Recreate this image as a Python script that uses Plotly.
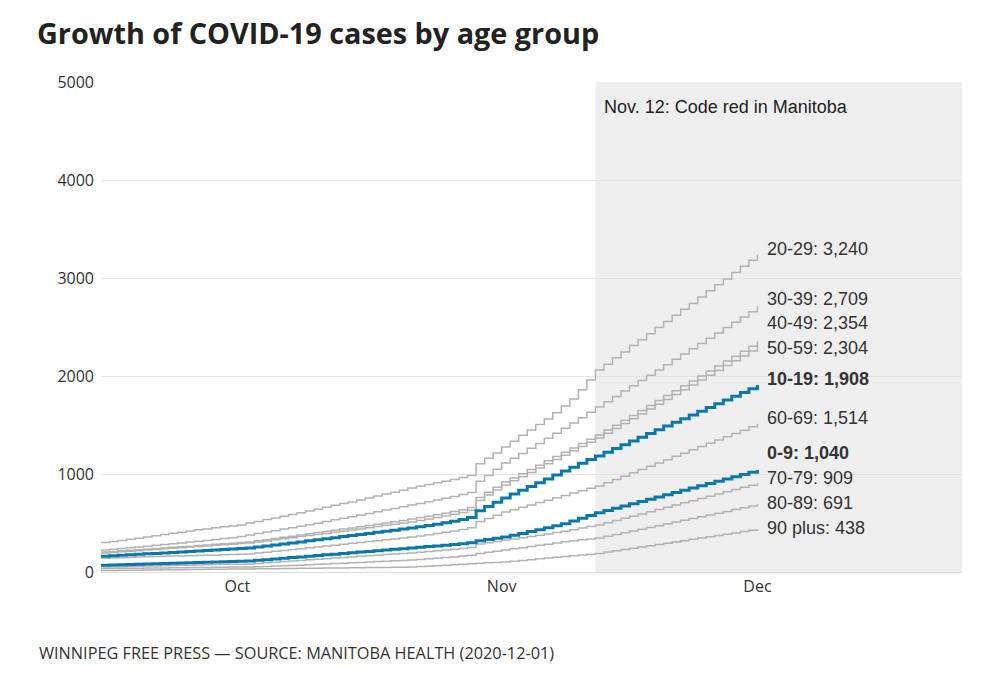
import pandas as pd
import plotly.graph_objects as go

dates = pd.date_range("2020-09-15", "2020-12-01", freq="D")

age_groups = ["20-29", "30-39", "40-49", "50-59", "10-19", "60-69", "0-9", "70-79", "80-89", "90 plus"]
highlight = ["10-19", "0-9"]

cases_20_29 = [300, 310, 322, 335, 345, 358, 370, 382, 395, 405, 418, 430, 440, 452, 462, 470, 480,
               500, 515, 535, 552, 570, 588, 605, 622, 640, 660, 680, 698, 715, 735, 755, 775, 795, 815, 835, 857,
               875, 893, 910, 925, 945, 965, 985,
               1105, 1160, 1215, 1276,
               1335, 1395, 1450, 1505, 1560, 1625, 1695, 1765, 1860, 1960, 2060,
               2120, 2185, 2245, 2310, 2370, 2430, 2495, 2555, 2620, 2680, 2740, 2805, 2870, 2930, 2990, 3055, 3120, 3180, 3240]
cases_30_39 = [225, 232, 240, 248, 256, 264, 272, 280, 288, 296, 305, 314, 322, 332, 342, 350, 362,
               378, 392, 408, 422, 438, 452, 468, 482, 498, 515, 532, 548, 565, 582, 598, 615, 632, 648, 665, 683,
               700, 718, 735, 752, 770, 790, 810,
               925, 985, 1048, 1112,
               1160, 1210, 1262, 1312, 1365, 1415, 1468, 1520, 1575, 1630, 1684,
               1738, 1792, 1846, 1900, 1954, 2008, 2062, 2116, 2170, 2224, 2278, 2332, 2386, 2440, 2494, 2548, 2602, 2656, 2709]
cases_40_49 = [205, 210, 216, 222, 228, 234, 240, 246, 252, 258, 264, 270, 276, 282, 288, 294, 300,
               306, 318, 330, 342, 354, 366, 378, 390, 402, 414, 426, 438, 450, 462, 475, 488, 500, 513, 526, 540,
               555, 570, 585, 600, 618, 636, 658,
               760, 815, 865, 918,
               960, 1003, 1046, 1090, 1134, 1178, 1222, 1266, 1310, 1354, 1398,
               1448, 1498, 1548, 1598, 1649, 1699, 1749, 1800, 1850, 1900, 1950, 2001, 2051, 2101, 2152, 2202, 2252, 2303, 2354]
cases_50_59 = [195, 200, 206, 212, 218, 224, 230, 236, 242, 248, 254, 260, 266, 272, 278, 284, 290,
               295, 306, 317, 328, 339, 350, 361, 372, 383, 394, 405, 416, 428, 440, 452, 464, 476, 488, 499, 510,
               525, 540, 556, 572, 590, 608, 630,
               730, 785, 836, 888,
               930, 973, 1016, 1060, 1104, 1148, 1192, 1236, 1280, 1324, 1367,
               1416, 1465, 1515, 1564, 1613, 1662, 1712, 1761, 1810, 1860, 1909, 1958, 2008, 2057, 2106, 2156, 2205, 2255, 2304]
cases_10_19 = [160, 165, 170, 175, 180, 185, 190, 195, 200, 205, 210, 215, 220, 225, 230, 235, 240,
               245, 255, 265, 276, 286, 297, 307, 318, 329, 339, 350, 361, 372, 383, 394, 405, 416, 427, 438, 449,
               461, 474, 487, 502, 518, 536, 556,
               625, 668, 712, 755,
               795, 833, 872, 910, 950, 990, 1030, 1070, 1110, 1148, 1184,
               1222, 1260, 1298, 1336, 1374, 1413, 1451, 1489, 1527, 1565, 1603, 1641, 1679, 1717, 1756, 1794, 1832, 1870, 1908]
cases_60_69 = [140, 143, 146, 149, 152, 155, 158, 160, 162, 164, 166, 168, 170, 172, 175, 178, 180,
               184, 193, 202, 211, 220, 229, 238, 247, 256, 265, 274, 284, 293, 302, 311, 320, 329, 338, 348, 357,
               368, 380, 392, 405, 418, 434, 452,
               515, 547, 580, 612,
               636, 660, 684, 708, 732, 757, 781, 805, 830, 854, 878,
               911, 945, 978, 1012, 1046, 1079, 1113, 1146, 1180, 1213, 1247, 1280, 1313, 1347, 1380, 1414, 1447, 1481, 1514]
cases_0_9 = [70, 72, 75, 77, 80, 82, 85, 87, 90, 92, 95, 97, 100, 102, 105, 107, 110,
             112, 119, 126, 133, 140, 147, 154, 161, 168, 175, 182, 189, 196, 203, 210, 217, 224, 231, 238, 245,
             252, 259, 266, 273, 280, 288, 298,
             320, 332, 344, 357,
             375, 393, 412, 432, 452, 472, 492, 520, 548, 576, 605,
             628, 651, 674, 697, 720, 742, 765, 788, 811, 834, 857, 880, 903, 926, 948, 971, 994, 1017, 1040]
cases_70_79 = [50, 52, 54, 56, 58, 60, 62, 64, 66, 68, 70, 72, 74, 76, 78, 79, 80,
               82, 88, 94, 100, 106, 112, 118, 124, 130, 136, 142, 148, 154, 160, 166, 172, 178, 184, 190, 195,
               202, 209, 216, 224, 232, 240, 250,
               285, 298, 312, 326,
               338, 350, 362, 375, 388, 402, 416, 432, 448, 464, 480,
               503, 525, 548, 570, 593, 615, 638, 661, 683, 706, 728, 751, 774, 796, 819, 841, 864, 886, 909]
cases_80_89 = [35, 36, 37, 38, 39, 40, 41, 42, 43, 44, 45, 46, 47, 48, 49, 50, 50,
               51, 54, 57, 60, 63, 66, 70, 74, 78, 82, 86, 90, 94, 98, 102, 106, 110, 114, 118, 122,
               128, 134, 140, 147, 154, 162, 170,
               190, 201, 212, 224,
               236, 248, 260, 272, 284, 296, 308, 318, 328, 338, 347,
               365, 383, 401, 419, 437, 455, 473, 492, 510, 528, 546, 564, 582, 600, 618, 637, 655, 673, 691]
cases_90_plus = [15, 16, 17, 18, 19, 20, 21, 22, 23, 24, 25, 26, 27, 28, 29, 30, 30,
                 31, 32, 33, 34, 35, 36, 37, 38, 39, 40, 41, 42, 43, 44, 45, 46, 47, 48, 49, 51,
                 55, 59, 63, 68, 73, 78, 84,
                 90, 94, 98, 102,
                 110, 118, 126, 134, 142, 150, 158, 166, 174, 182, 190,
                 203, 216, 229, 242, 255, 268, 281, 294, 307, 320, 333, 346, 359, 372, 385, 398, 412, 425, 438]

series = {
    "20-29": cases_20_29, "30-39": cases_30_39, "40-49": cases_40_49, "50-59": cases_50_59,
    "10-19": cases_10_19, "60-69": cases_60_69, "0-9": cases_0_9, "70-79": cases_70_79,
    "80-89": cases_80_89, "90 plus": cases_90_plus,
}

# label vertical nudges (pixels) to avoid overlaps
label_yshift = {"20-29": 5, "30-39": 8, "40-49": 18, "50-59": -2, "10-19": 6,
                "60-69": 6, "0-9": 17, "70-79": 5, "80-89": 1, "90 plus": 1}

code_red_date = "2020-11-12"
x_start, x_end = "2020-09-15", "2020-12-25"

GRAY = "#b3b3b3"
BLUE = "#0a78ad"

# the page adds an 8px body margin, so the figure is laid out in a 991x684 box
W, H = 991, 684
ML, MR, MT, MB = 93, 37, 74, 120
PW, PH = W - ML - MR, H - MT - MB

fig = go.Figure()
order = [g for g in age_groups if g not in highlight] + highlight
for g in order:
    hl = g in highlight
    fig.add_trace(go.Scatter(
        x=dates, y=series[g], mode="lines", line_shape="hv",
        line=dict(color=BLUE if hl else GRAY, width=3 if hl else 1.5),
        name=g, showlegend=False, hoverinfo="skip"))

annotations = []
for g in age_groups:
    vals = series[g]
    hl = g in highlight
    txt = f"{g}: {vals[-1]:,}"
    if hl:
        txt = f"<b>{txt}</b>"
    annotations.append(dict(
        x=dates[-1], y=vals[-1], xref="x", yref="y", text=txt, showarrow=False,
        xanchor="left", yanchor="middle", xshift=8, yshift=label_yshift[g],
        font=dict(family="Liberation Sans, Arial, sans-serif", size=18, color="#333333")))

annotations.append(dict(
    x=code_red_date, y=1, xref="x", yref="paper", text="Nov. 12: Code red in Manitoba",
    showarrow=False, xanchor="left", yanchor="top", xshift=7, yshift=-13,
    font=dict(family="Liberation Sans, Arial, sans-serif", size=18, color="#222222")))

annotations.append(dict(
    x=(29 - ML) / PW, y=-81 / PH, xref="paper", yref="paper", xanchor="left", yanchor="middle",
    text="WINNIPEG FREE PRESS — SOURCE: MANITOBA HEALTH (2020-12-01)", showarrow=False,
    font=dict(family="Open Sans, sans-serif", size=16.3, color="#333333")))

fig.add_shape(type="rect", xref="x", yref="paper", x0=code_red_date, x1=x_end, y0=0, y1=1,
              fillcolor="#efefef", line_width=0, layer="below")

fig.update_layout(
    width=W, height=H,
    margin=dict(l=ML, r=MR, t=MT, b=MB),
    paper_bgcolor="white", plot_bgcolor="white",
    title=dict(text="<b>Growth of COVID-19 cases by age group</b>", x=29 / W, xanchor="left",
               y=1 - 26 / H, yanchor="middle",
               font=dict(family="Open Sans, sans-serif", size=28.8, color="#222222")),
    annotations=annotations,
    xaxis=dict(range=[x_start, x_end], showgrid=False, zeroline=False,
               showline=True, linecolor="#dddddd", linewidth=1,
               tickformat="%b", dtick="M1", tick0="2020-10-01", ticks="",
               tickfont=dict(family="Open Sans, sans-serif", size=16, color="#333333")),
    yaxis=dict(range=[0, 5000], dtick=1000, showgrid=True, gridcolor="#e3e3e3", gridwidth=1,
               zeroline=False, ticks="", tickformat="d", ticklabelstandoff=6,
               tickfont=dict(family="Open Sans, sans-serif", size=16, color="#333333")),
    hovermode=False,
)

fig.write_html("out.html")
